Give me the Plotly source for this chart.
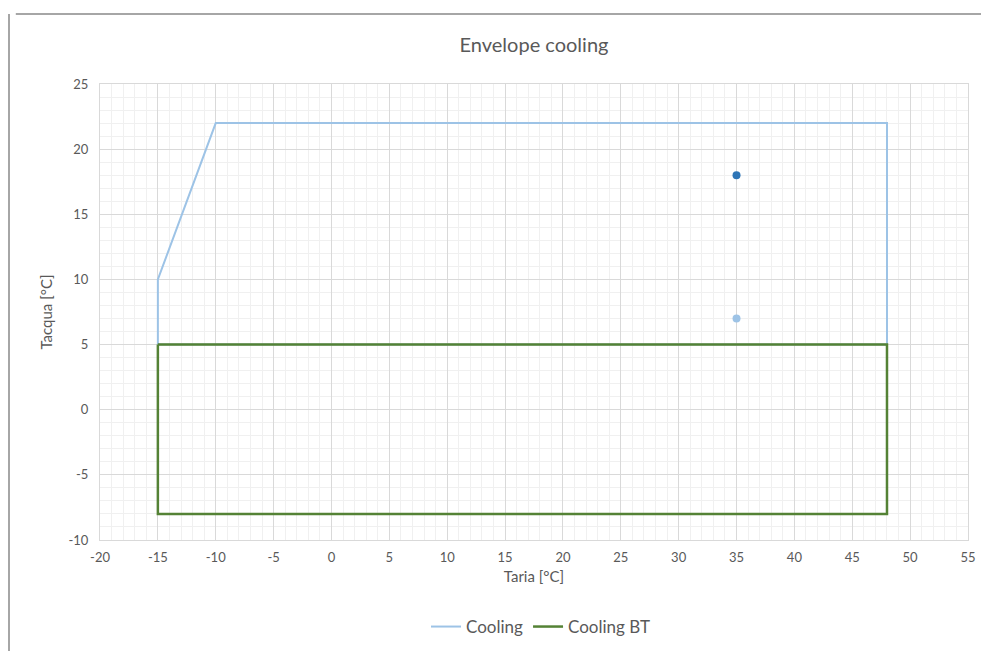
import plotly.graph_objects as go

# Data
cooling_x = [-15, -15, -10, 48, 48, -15]
cooling_y = [5, 10, 22, 22, 5, 5]
cooling_bt_x = [-15, -15, 48, 48, -15]
cooling_bt_y = [5, -8, -8, 5, 5]
point_dark_x = [35]
point_dark_y = [18]
point_light_x = [35]
point_light_y = [7]
x_ticks = list(range(-20, 56, 5))
y_ticks = list(range(-10, 26, 5))
x_tick_labels = [str(v) for v in x_ticks]
y_tick_labels = [str(v) for v in y_ticks]

FONT = "Lato, Open Sans, sans-serif"
TXT = "#595959"

fig = go.Figure()
fig.add_trace(go.Scatter(x=cooling_x, y=cooling_y, mode="lines", name="Cooling",
                         line=dict(color="#9dc3e6", width=2)))
fig.add_trace(go.Scatter(x=cooling_bt_x, y=cooling_bt_y, mode="lines", name="Cooling BT",
                         line=dict(color="#548235", width=2.5)))
fig.add_trace(go.Scatter(x=point_dark_x, y=point_dark_y, mode="markers", showlegend=False,
                         marker=dict(color="#2e75b6", size=8)))
fig.add_trace(go.Scatter(x=point_light_x, y=point_light_y, mode="markers", showlegend=False,
                         marker=dict(color="#9dc3e6", size=8)))

axis_common = dict(
    showgrid=True, gridcolor="#d9d9d9", gridwidth=1,
    minor=dict(dtick=1, showgrid=True, gridcolor="#f0f0f0", gridwidth=1),
    zeroline=False, showline=True, linecolor="#d9d9d9", linewidth=1, mirror=True,
    ticks="", tickfont=dict(family=FONT, size=13, color=TXT),
)

# figure is placed 8px from the window edge (page body margin)
W, H = 981, 643
fig.update_layout(
    width=W, height=H,
    margin=dict(l=92, r=21, t=76, b=111, autoexpand=False),
    paper_bgcolor="white", plot_bgcolor="white",
    title=dict(text="Envelope cooling", x=0.5, xref="paper", xanchor="center",
               y=1 - 37 / H, yanchor="middle",
               font=dict(family=FONT, size=20, color=TXT)),
    xaxis=dict(range=[-20, 55], tickvals=x_ticks, ticktext=x_tick_labels,
               ticklabelstandoff=5, automargin=False,
               title=dict(text="Taria [°C]", standoff=7,
                          font=dict(family=FONT, size=15, color=TXT)), **axis_common),
    yaxis=dict(range=[-10, 25], tickvals=y_ticks, ticktext=y_tick_labels,
               ticklabelstandoff=8, automargin=False,
               title=dict(text="Tacqua [°C]", standoff=12,
                          font=dict(family=FONT, size=15, color=TXT)), **axis_common),
    legend=dict(orientation="h", x=0.5 + 7 / 868, xanchor="center", yref="container",
                y=24 / H, yanchor="middle",
                font=dict(family=FONT, size=17, color=TXT)),
    showlegend=True,
)

# outer chart border (top and left edges visible)
fig.add_shape(type="line", xref="paper", yref="paper", x0=-0.097, x1=1.05,
              y0=1 + 70 / 456, y1=1 + 70 / 456, line=dict(color="#a6a6a6", width=2))
fig.add_shape(type="line", xref="paper", yref="paper", x0=-91 / 868, x1=-91 / 868,
              y0=1 + 70 / 456, y1=-0.3, line=dict(color="#a6a6a6", width=2))

fig.write_html("out.html")
